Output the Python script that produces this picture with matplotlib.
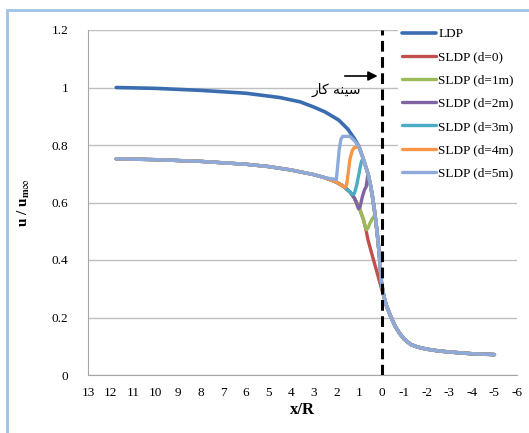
import numpy as np
import matplotlib.pyplot as plt
from matplotlib.patches import Rectangle

plt.rcParams['font.family'] = ['Liberation Serif', 'DejaVu Sans']
plt.rcParams['mathtext.fontset'] = 'stix'

# LDP curve
x_ldp = [11.75, 10, 8, 6, 4.5, 3.6, 3, 2.5, 1.9, 1.5, 1.2, 1.0, 0.8, 0.6, 0.5, 0.4, 0.3, 0.2, 0.1, 0.0,
         -0.1, -0.2, -0.4, -0.6, -0.8, -1.0, -1.3, -1.6, -2.0, -2.5, -3.0, -4.0, -5.0]
y_ldp = [1.0, 0.997, 0.99, 0.98, 0.965, 0.95, 0.932, 0.915, 0.887, 0.856, 0.822, 0.795, 0.75, 0.70, 0.665, 0.62,
         0.565, 0.50, 0.42, 0.32, 0.275, 0.245, 0.205, 0.17, 0.145, 0.125, 0.106, 0.097, 0.09, 0.084, 0.08,
         0.074, 0.071]

# common SLDP branch before the jumps (also the red d=0 curve down to x=0)
x_base = [11.75, 10, 8, 6, 5, 4, 3, 2.5, 2.0, 1.7, 1.4, 1.2, 1.0, 0.8, 0.7, 0.6, 0.4, 0.2, 0.0]
y_base = [0.752, 0.749, 0.743, 0.733, 0.725, 0.713, 0.697, 0.686, 0.671, 0.657, 0.637, 0.615, 0.585, 0.54,
          0.51, 0.47, 0.413, 0.357, 0.30]

# jump segments: (base kept while x > start, jump points, LDP used while x <= end)
labels = ['SLDP (d=0)', 'SLDP (d=1m)', 'SLDP (d=2m)', 'SLDP (d=3m)', 'SLDP (d=4m)', 'SLDP (d=5m)']
colors = ['#C0504D', '#9BBB59', '#8064A2', '#4BACC6', '#F79646', '#8EAADB']
base_start = [-1, 0.75, 1.15, 1.35, 1.65, 2.02]
ldp_end = [-0.01, 0.3, 0.6, 0.8, 1.0, 1.0]
jump_x = [[],
          [0.72, 0.65, 0.58, 0.5, 0.4, 0.33],
          [1.1, 1.02, 0.95, 0.85, 0.75, 0.68],
          [1.3, 1.2, 1.1, 1.0, 0.94, 0.88],
          [1.62, 1.55, 1.48, 1.4, 1.3, 1.22],
          [2.0, 1.95, 1.88, 1.8, 1.72, 1.6, 1.4, 1.2]]
jump_y = [[],
          [0.515, 0.505, 0.515, 0.53, 0.545, 0.55],
          [0.595, 0.578, 0.585, 0.62, 0.645, 0.655],
          [0.628, 0.632, 0.66, 0.70, 0.725, 0.745],
          [0.652, 0.66, 0.70, 0.75, 0.78, 0.79],
          [0.68, 0.72, 0.78, 0.82, 0.83, 0.83, 0.83, 0.815]]

fig = plt.figure(figsize=(5.29, 4.33), dpi=100)
ax = fig.add_axes([88 / 529, 1 - 375 / 433, (517 - 88) / 529, (375 - 30) / 433])

ax.plot(x_ldp, y_ldp, color='#3A6DB0', lw=2.6, label='LDP', solid_capstyle='round', zorder=3)

xb = np.array(x_base)
yb = np.array(y_base)
xl = np.array(x_ldp)
yl = np.array(y_ldp)
for i in range(len(labels)):
    keep = xb > base_start[i]
    tail = xl <= ldp_end[i]
    xs = np.concatenate([xb[keep], jump_x[i], xl[tail]])
    ys = np.concatenate([yb[keep], jump_y[i], yl[tail]])
    ax.plot(xs, ys, color=colors[i], lw=2.4, label=labels[i], solid_capstyle='round', zorder=3 + i)

ax.axvline(0, color='black', lw=2.2, ls=(0, (3.5, 1.8)), zorder=10)

ax.annotate('', xy=(0.05, 1.04), xytext=(1.75, 1.04),
            arrowprops=dict(arrowstyle='-|>', color='black', lw=1.2, mutation_scale=14), zorder=11)
# "سینه کار" in shaped presentation forms, visual order
face_text = '\uFEAD\uFE8E\uFB90 \uFEEA\uFEE8\uFBFF\uFEB3'
ax.text(2.0, 0.99, face_text, ha='center', va='center', fontsize=10,
        family=['DejaVu Sans', 'Noto Sans', 'Liberation Serif'], zorder=11)

ax.set_xlim(13, -6)
ax.set_ylim(0, 1.2)
ax.set_xticks(range(13, -7, -1))
ax.set_xticklabels([str(v) for v in range(13, -7, -1)], fontsize=9.5)
yt = [0, 0.2, 0.4, 0.6, 0.8, 1.0, 1.2]
ax.set_yticks(yt)
ax.set_yticklabels(['0', '0.2', '0.4', '0.6', '0.8', '1', '1.2'], fontsize=9.5)
ax.tick_params(length=0, pad=9)
ax.tick_params(axis='y', pad=14)
ax.grid(axis='y', color='#BFBFBF', lw=1)
ax.set_axisbelow(True)
for s in ['top', 'right']:
    ax.spines[s].set_visible(False)
for s in ['left', 'bottom']:
    ax.spines[s].set_color('#A6A6A6')

ax.set_xlabel('x/R', fontsize=12, fontweight='bold', labelpad=2)
ax.set_ylabel(r'u / u$_{\mathbf{m}\infty}$', fontsize=11, fontweight='bold', labelpad=14)

leg = ax.legend(loc='upper left', bbox_to_anchor=(398 / 529, 1 - 24 / 433), bbox_transform=fig.transFigure,
                frameon=True, fontsize=9.5, handlelength=2.6, handletextpad=0.15, labelspacing=0.83,
                borderpad=0.3, borderaxespad=0)
leg.get_frame().set_facecolor('white')
leg.get_frame().set_edgecolor('none')
leg.get_frame().set_alpha(1)
leg.set_zorder(12)

fig.add_artist(Rectangle((7 / 529, -0.1), 1.2, 1.1 - 10 / 433, transform=fig.transFigure,
                         fill=False, edgecolor='#9DC3E6', lw=2))

fig.savefig('out.png', dpi=100)
